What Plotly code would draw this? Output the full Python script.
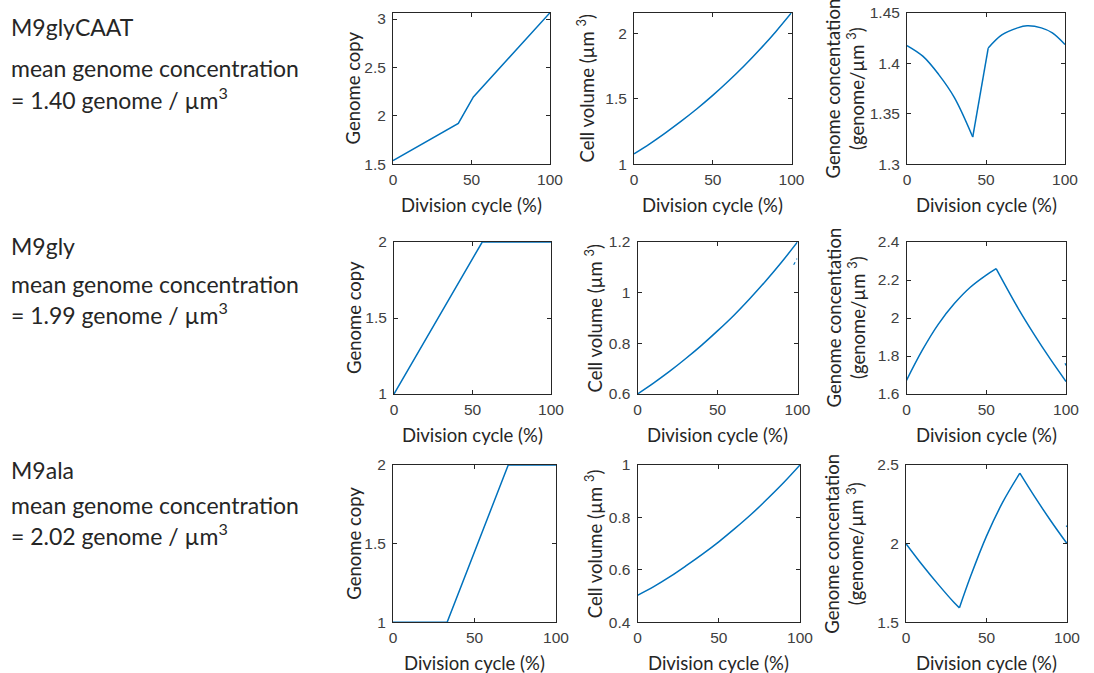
import plotly.graph_objects as go

# ---------------- data ----------------
conditions = ["M9glyCAAT", "M9gly", "M9ala"]
mean_conc = ["1.40", "1.99", "2.02"]

# Row 1: M9glyCAAT
r1_genome_x = [0, 41.6, 51.2, 100]
r1_genome_y = [1.538, 1.922, 2.195, 3.065]
r1_vol_x = [0, 10, 20, 30, 40, 50, 60, 70, 80, 90, 100]
r1_vol_y = [1.08, 1.157, 1.241, 1.330, 1.425, 1.527, 1.637, 1.754, 1.880, 2.015, 2.16]
r1_conc_x = [0, 10, 20, 30, 41.6, 51.4, 60, 70, 76, 85, 92, 100]
r1_conc_y = [1.4175, 1.407, 1.389, 1.366, 1.327, 1.415, 1.428, 1.435, 1.437, 1.435, 1.430, 1.4185]

# Row 2: M9gly
r2_genome_x = [0, 56.2, 100]
r2_genome_y = [1.0, 2.0, 2.0]
r2_vol_x = [0, 10, 20, 30, 40, 50, 60, 70, 80, 90, 100]
r2_vol_y = [0.6, 0.643, 0.689, 0.739, 0.792, 0.849, 0.909, 0.975, 1.045, 1.120, 1.2]
r2_vol_stray_x = [97.6, 99.8]
r2_vol_stray_y = [1.11, 1.135]
r2_conc_x = [0, 10, 20, 30, 40, 50, 56.2, 70, 80, 90, 100]
r2_conc_y = [1.672, 1.832, 1.968, 2.076, 2.162, 2.226, 2.260, 2.051, 1.914, 1.786, 1.666]
r2_conc_stray_x = [99.4, 100]
r2_conc_stray_y = [1.762, 1.750]

# Row 3: M9ala
r3_genome_x = [0, 33.2, 70.7, 100]
r3_genome_y = [1.0, 1.0, 2.0, 2.0]
r3_vol_x = [0, 10, 20, 30, 40, 50, 60, 70, 80, 90, 100]
r3_vol_y = [0.503, 0.536, 0.574, 0.616, 0.660, 0.707, 0.758, 0.812, 0.871, 0.933, 1.0]
r3_conc_x = [0, 10, 20, 30, 33.2, 40, 50, 60, 70.7, 80, 90, 100]
r3_conc_y = [2.0, 1.866, 1.741, 1.624, 1.592, 1.789, 2.048, 2.262, 2.448, 2.297, 2.144, 2.0]
r3_conc_stray_x = [99.5, 100]
r3_conc_stray_y = [2.115, 2.107]

y_ranges = [[1.5, 3.065], [1.0, 2.16], [1.3, 1.45],
            [1.0, 2.0], [0.6, 1.2], [1.6, 2.4],
            [1.0, 2.0], [0.4, 1.0], [1.5, 2.5]]
y_dticks = [0.5, 0.5, 0.05, 0.5, 0.2, 0.2, 0.5, 0.2, 0.5]

# ---------------- layout geometry (pixels) ----------------
W, H = 1094, 673
x_px = [(393, 550), (634, 791.5), (907, 1065),
        (394, 551), (637.5, 797.5), (906.5, 1066),
        (393, 556), (637.5, 800), (906, 1067)]
y_px = [(12.7, 164.3), (242, 394), (465, 622.3)]
ytitle_off = [40, 48, 62, 40, 44, 61, 39, 44, 62]

BLUE = "#0072BD"
AX = "#262626"
TICKFONT = dict(family="Liberation Sans, Arial, sans-serif", size=15.5, color="#404040")
TITLEFONT = dict(family="Lato, sans-serif", size=18.5, color="#262626")
TEXTFONT = dict(family="Lato, sans-serif", size=23, color="#262626")

# (x, y, indices where the curve has a corner, smooth?)
series = [
    [(r1_genome_x, r1_genome_y, [], False)],
    [(r1_vol_x, r1_vol_y, [], True)],
    [(r1_conc_x, r1_conc_y, [4, 5], True)],
    [(r2_genome_x, r2_genome_y, [], False)],
    [(r2_vol_x, r2_vol_y, [], True), (r2_vol_stray_x, r2_vol_stray_y, None, False)],
    [(r2_conc_x, r2_conc_y, [6], True), (r2_conc_stray_x, r2_conc_stray_y, None, False)],
    [(r3_genome_x, r3_genome_y, [], False)],
    [(r3_vol_x, r3_vol_y, [], True)],
    [(r3_conc_x, r3_conc_y, [4, 8], True), (r3_conc_stray_x, r3_conc_stray_y, None, False)],
]

fig = go.Figure()
layout = {}
annotations = []
ytitles = ["Genome copy", "Cell volume (µm <sup>3</sup>)",
           "Genome concentation<br>(genome/µm <sup>3</sup>)"]

for i in range(9):
    row, col = divmod(i, 3)
    n = "" if i == 0 else str(i + 1)
    for xs, ys, kinks, smooth in series[i]:
        if kinks is None:
            fig.add_trace(go.Scatter(x=xs, y=ys, mode="lines",
                                     line=dict(color=BLUE, width=1.2, dash="dot"),
                                     xaxis="x" + n, yaxis="y" + n, hoverinfo="skip"))
            continue
        cuts = [0] + kinks + [len(xs) - 1]
        for a, b in zip(cuts[:-1], cuts[1:]):
            fig.add_trace(go.Scatter(
                x=xs[a:b + 1], y=ys[a:b + 1], mode="lines",
                line=dict(color=BLUE, width=1.5,
                          shape="spline" if smooth and b - a > 1 else "linear"),
                xaxis="x" + n, yaxis="y" + n, hoverinfo="skip"))
    l, r = x_px[i]
    t, b = y_px[row]
    common = dict(showline=True, linecolor=AX, linewidth=1, mirror="ticks",
                  ticks="inside", ticklen=4, tickcolor=AX, tickwidth=1,
                  showgrid=False, zeroline=False, tickfont=TICKFONT, fixedrange=True,
                  automargin=False)
    layout["xaxis" + n] = dict(common, domain=[l / W, r / W], range=[0, 100],
                               tickvals=[0, 50, 100], anchor="y" + n,
                               ticklabelstandoff=1)
    lo, hi = y_ranges[i]
    layout["yaxis" + n] = dict(common, domain=[1 - b / H, 1 - t / H], range=[lo, hi],
                               tick0=lo, dtick=y_dticks[i], anchor="x" + n,
                               ticklabelstandoff=3)
    annotations.append(dict(text="Division cycle (%)", xref="paper", yref="paper",
                            x=(l + r) / 2 / W, y=1 - (b + 41) / H,
                            xanchor="center", yanchor="middle", showarrow=False,
                            font=TITLEFONT))
    annotations.append(dict(text=ytitles[col], xref="paper", yref="paper",
                            x=(l - ytitle_off[i]) / W, y=1 - (t + b) / 2 / H,
                            xanchor="center", yanchor="middle", textangle=-90,
                            showarrow=False, font=TITLEFONT))

text_y = [(27, 68, 98), (246, 284, 313), (470, 505, 534)]
for j in range(3):
    y0, y1, y2 = text_y[j]
    for txt, yy in [(conditions[j], y0), ("mean genome concentration", y1),
                    ("= " + mean_conc[j] + " genome / µm<sup>3</sup>", y2)]:
        annotations.append(dict(text=txt, xref="paper", yref="paper",
                                x=9 / W, y=1 - yy / H, xanchor="left", yanchor="middle",
                                showarrow=False, font=TEXTFONT))

fig.update_layout(**layout)
fig.update_layout(width=W, height=H, margin=dict(l=0, r=0, t=0, b=0),
                  paper_bgcolor="white", plot_bgcolor="white",
                  annotations=annotations, showlegend=False)
fig.write_html("out.html")
